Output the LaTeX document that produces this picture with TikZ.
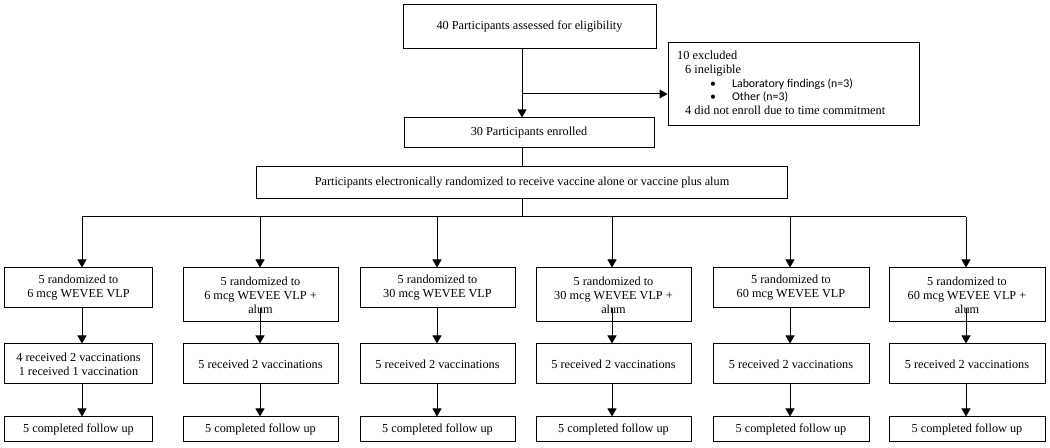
\documentclass[tikz,border=0pt]{standalone}
\usepackage{fontspec}
\setmainfont{Liberation Serif}
\newfontfamily\calib{Carlito}
\usetikzlibrary{arrows.meta}
\begin{document}
\begin{tikzpicture}[x=1bp,y=-1bp,
  box/.style={draw,line width=1bp,align=center,inner sep=0pt,font=\fontsize{12.3}{14}\selectfont},
  arr/.style={line width=1bp,-{Triangle[width=9bp,length=8bp]}},
  ln/.style={line width=1bp}]
\useasboundingbox (0,0) rectangle (1050,448);
% top part
\node[box,minimum width=253bp,minimum height=44bp] (top) at (529.5,27) {40 Participants assessed for eligibility};
\node[box,minimum width=251bp,minimum height=83bp] (exc) at (793.5,84.5) {};
\node[anchor=west,align=left,inner sep=0pt,font=\fontsize{12.4}{13.75}\selectfont] (exctxt) at (677,83)
 {10 excluded\\
  \hspace*{8bp}6 ineligible\\
  \hspace*{33bp}{\calib\fontsize{11.9}{13.75}\selectfont•}\hspace*{16bp}{\calib\fontsize{11.9}{13.75}\selectfont Laboratory findings (n=3)}\\
  \hspace*{33bp}{\calib\fontsize{11.9}{13.75}\selectfont•}\hspace*{16bp}{\calib\fontsize{11.9}{13.75}\selectfont Other (n=3)}\\
  \hspace*{8bp}4 did not enroll due to time commitment};
\node[box,minimum width=250bp,minimum height=30bp] (enr) at (529,133) {30 Participants enrolled};
\node[box,minimum width=530bp,minimum height=32bp] (rand) at (522,183) {Participants electronically randomized to receive vaccine alone or vaccine plus alum};
\coordinate (br) at (522,94);
\draw[arr] (top.south -| br) -- (enr.north -| br);
\draw[arr] (br) -- (exc.west |- br);
\draw[ln] (enr.south -| rand.center) -- (rand.north);
\coordinate (hm) at (522,217);
\draw[ln] (rand.south) -- (hm);
% column anchors on horizontal line
\coordinate (h1) at (82,217);
\coordinate (h2) at (260,217);
\coordinate (h3) at (437,217);
\coordinate (h4) at (612,217);
\coordinate (h5) at (790,217);
\coordinate (h6) at (966,217);
\draw[ln] (h1) -- (h6);
% row 1
\node[box,minimum width=147bp,minimum height=40bp] (a1) at (78.5,288) {5 randomized to\\6 mcg WEVEE VLP};
\node[box,minimum width=155bp,minimum height=54bp] (a2) at (260.5,295) {5 randomized to\\6 mcg WEVEE VLP +\\alum};
\node[box,minimum width=155bp,minimum height=40bp] (a3) at (437.5,288) {5 randomized to\\30 mcg WEVEE VLP};
\node[box,minimum width=155bp,minimum height=54bp] (a4) at (613.5,295) {5 randomized to\\30 mcg WEVEE VLP +\\alum};
\node[box,minimum width=156bp,minimum height=40bp] (a5) at (791,288) {5 randomized to\\60 mcg WEVEE VLP};
\node[box,minimum width=156bp,minimum height=54bp] (a6) at (967,295) {5 randomized to\\60 mcg WEVEE VLP +\\alum};
% row 2
\node[box,minimum width=147bp,minimum height=40bp] (b1) at (78.5,364) {4 received 2 vaccinations\\1 received 1 vaccination};
\node[box,minimum width=155bp,minimum height=40bp] (b2) at (260.5,364) {5 received 2 vaccinations};
\node[box,minimum width=155bp,minimum height=40bp] (b3) at (437.5,364) {5 received 2 vaccinations};
\node[box,minimum width=155bp,minimum height=40bp] (b4) at (613.5,364) {5 received 2 vaccinations};
\node[box,minimum width=156bp,minimum height=40bp] (b5) at (791,364) {5 received 2 vaccinations};
\node[box,minimum width=156bp,minimum height=40bp] (b6) at (967,364) {5 received 2 vaccinations};
% row 3
\node[box,minimum width=147bp,minimum height=25bp] (c1) at (78.5,429.5) {5 completed follow up};
\node[box,minimum width=155bp,minimum height=25bp] (c2) at (260.5,429.5) {5 completed follow up};
\node[box,minimum width=155bp,minimum height=25bp] (c3) at (437.5,429.5) {5 completed follow up};
\node[box,minimum width=155bp,minimum height=25bp] (c4) at (613.5,429.5) {5 completed follow up};
\node[box,minimum width=156bp,minimum height=25bp] (c5) at (791,429.5) {5 completed follow up};
\node[box,minimum width=156bp,minimum height=25bp] (c6) at (967,429.5) {5 completed follow up};
% connectors
\foreach \i in {1,...,6}{
  \draw[arr] (h\i) -- (h\i |- a\i.north);
  \draw[arr] (h\i |- a1.south) -- (h\i |- b\i.north);
  \draw[arr] (h\i |- b\i.south) -- (h\i |- c\i.north);
}
\end{tikzpicture}
\end{document}
